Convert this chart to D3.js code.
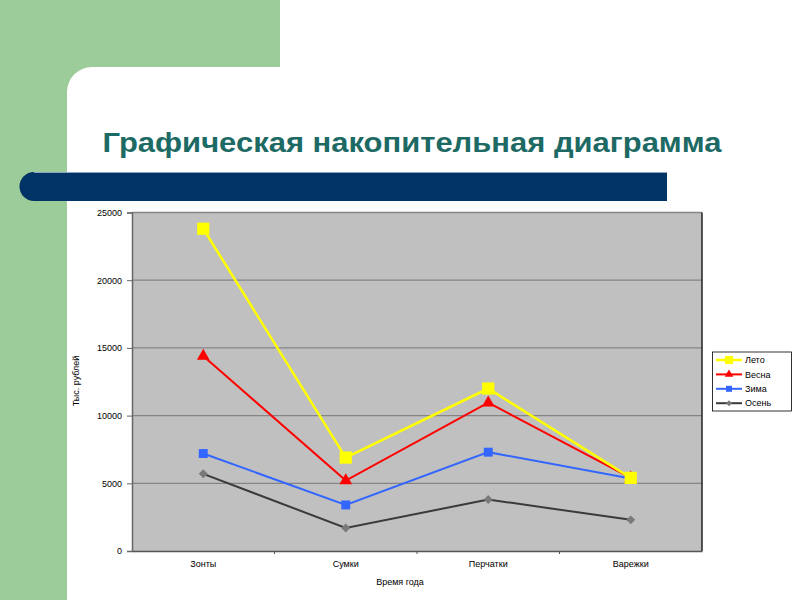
<!DOCTYPE html>
<html><head><meta charset="utf-8">
<script src="https://cdn.jsdelivr.net/npm/d3@7"></script>
<style>body{margin:0;background:#fff}svg{display:block}</style>
</head><body>
<svg id="c" width="800" height="600"></svg>
<script>
const title = "Графическая накопительная диаграмма";
const categories = ["Зонты", "Сумки", "Перчатки", "Варежки"];
const seriesNames = ["Лето", "Весна", "Зима", "Осень"];
const leto  = [23800, 6900, 12000, 5400];
const vesna = [14400, 5200, 10950, 5400];
const zima  = [7200, 3400, 7300, 5350];
const osen  = [5700, 1700, 3800, 2300];
const yTicks = [0, 5000, 10000, 15000, 20000, 25000];
const yTitle = "Тыс. рублей";
const xTitle = "Время года";

const svg = d3.select("#c");
// slide decoration
svg.append("rect").attr("x",0).attr("y",0).attr("width",800).attr("height",600).attr("fill","#fff");
svg.append("rect").attr("x",0).attr("y",0).attr("width",280).attr("height",67).attr("fill","#9ccc9a");
svg.append("rect").attr("x",0).attr("y",0).attr("width",67).attr("height",600).attr("fill","#9ccc9a");
svg.append("path").attr("d","M67,67 L92,67 A25,25 0 0 0 67,92 Z").attr("fill","#9ccc9a");
svg.append("text").attr("x",412).attr("y",152).attr("text-anchor","middle")
  .attr("font-family","Liberation Sans, Arial, sans-serif").attr("font-weight","bold")
  .attr("font-size",28).attr("fill","#1d6a65")
  .attr("textLength",619).attr("lengthAdjust","spacingAndGlyphs").text(title);
svg.append("path").attr("d","M34,172 L667,172 L667,201 L34,201 A14.5,14.5 0 0 1 34,172 Z").attr("fill","#013366");
svg.append("line").attr("x1",34).attr("x2",667).attr("y1",172.5).attr("y2",172.5).attr("stroke","#8fa3c4").attr("stroke-width",1);

// chart
const L=132, R=702, T=212.5, B=551;
const x = d3.scaleBand().domain(categories).range([L,R]);
const y = d3.scaleLinear().domain([0,25000]).range([B,T]);
const g = svg.append("g");
g.append("rect").attr("x",L).attr("y",T).attr("width",R-L).attr("height",B-T).attr("fill","#c0c0c0");
g.selectAll("line.grid").data(yTicks.filter(d=>d>0)).join("line").attr("class","grid")
  .attr("x1",L).attr("x2",R).attr("y1",d=>y(d)).attr("y2",d=>y(d)).attr("stroke","#858585").attr("stroke-width",1.3);
g.append("line").attr("x1",R).attr("x2",R).attr("y1",T).attr("y2",B).attr("stroke","#222").attr("stroke-width",1.5);

const font = "Liberation Sans, Arial, sans-serif";
const yAxis = g.append("g").attr("transform",`translate(${L},0)`)
  .call(d3.axisLeft(y).tickValues(yTicks).tickSize(5).tickPadding(5).tickFormat(d3.format("d")));
yAxis.select(".domain").attr("stroke","#666").attr("stroke-width",1.5);
yAxis.selectAll(".tick line").attr("stroke","#666");
yAxis.selectAll("text").attr("font-family",font).attr("font-size",9).attr("fill","#000");

const xAxis = g.append("g").attr("transform",`translate(0,${B})`)
  .call(d3.axisBottom(x).tickSize(0).tickPadding(10));
xAxis.select(".domain").attr("stroke","#555").attr("stroke-width",1.5);
xAxis.selectAll("text").attr("font-family",font).attr("font-size",9).attr("fill","#000");
xAxis.selectAll("line.bt").data(categories.slice(1)).join("line").attr("class","bt")
  .attr("x1",d=>x(d)).attr("x2",d=>x(d)).attr("y1",0).attr("y2",3).attr("stroke","#555");

svg.append("text").attr("x",400).attr("y",585).attr("text-anchor","middle")
  .attr("font-family",font).attr("font-size",9).text(xTitle);
svg.append("text").attr("transform","translate(79,381) rotate(-90)").attr("text-anchor","middle")
  .attr("font-family",font).attr("font-size",9).text(yTitle);

const cx = d => x(d)+x.bandwidth()/2;
const series = [
  {name:seriesNames[3], v:osen,  color:"#3a3a3a", mcolor:"#7a7a7a", w:2,   sym:d3.symbolSquare, size:40, rot:45},
  {name:seriesNames[2], v:zima,  color:"#3366ff", mcolor:"#3366ff", w:2,   sym:d3.symbolSquare, size:80, rot:0},
  {name:seriesNames[1], v:vesna, color:"#ff0000", mcolor:"#ff0000", w:2,   sym:d3.symbolTriangle, size:70, rot:0},
  {name:seriesNames[0], v:leto,  color:"#ffff00", mcolor:"#ffff00", w:2.5, sym:d3.symbolSquare, size:150, rot:0}
];
const line = d3.line().x((d,i)=>cx(categories[i])).y(d=>y(d));
series.forEach(s=>{
  g.append("path").datum(s.v).attr("d",line).attr("fill","none").attr("stroke",s.color).attr("stroke-width",s.w);
  g.selectAll(null).data(s.v).join("path")
    .attr("transform",(d,i)=>`translate(${cx(categories[i])},${y(d)}) rotate(${s.rot})`)
    .attr("d",d3.symbol(s.sym,s.size)()).attr("fill",s.mcolor);
});

// legend
const lg = svg.append("g");
lg.append("rect").attr("x",712.5).attr("y",352).attr("width",79).attr("height",59).attr("fill","#fff").attr("stroke","#000").attr("stroke-width",0.8);
const legOrder = series.slice().reverse();
legOrder.forEach((s,i)=>{
  const yy = 360 + i*14.4;
  lg.append("line").attr("x1",716).attr("x2",742).attr("y1",yy).attr("y2",yy).attr("stroke",s.color).attr("stroke-width",s.w);
  lg.append("path").attr("transform",`translate(729,${yy}) rotate(${s.rot})`).attr("d",d3.symbol(s.sym,s.size*0.45)()).attr("fill",s.mcolor);
  lg.append("text").attr("x",745).attr("y",yy+3.2).attr("font-family",font).attr("font-size",9).text(s.name);
});
</script>
</body></html>
